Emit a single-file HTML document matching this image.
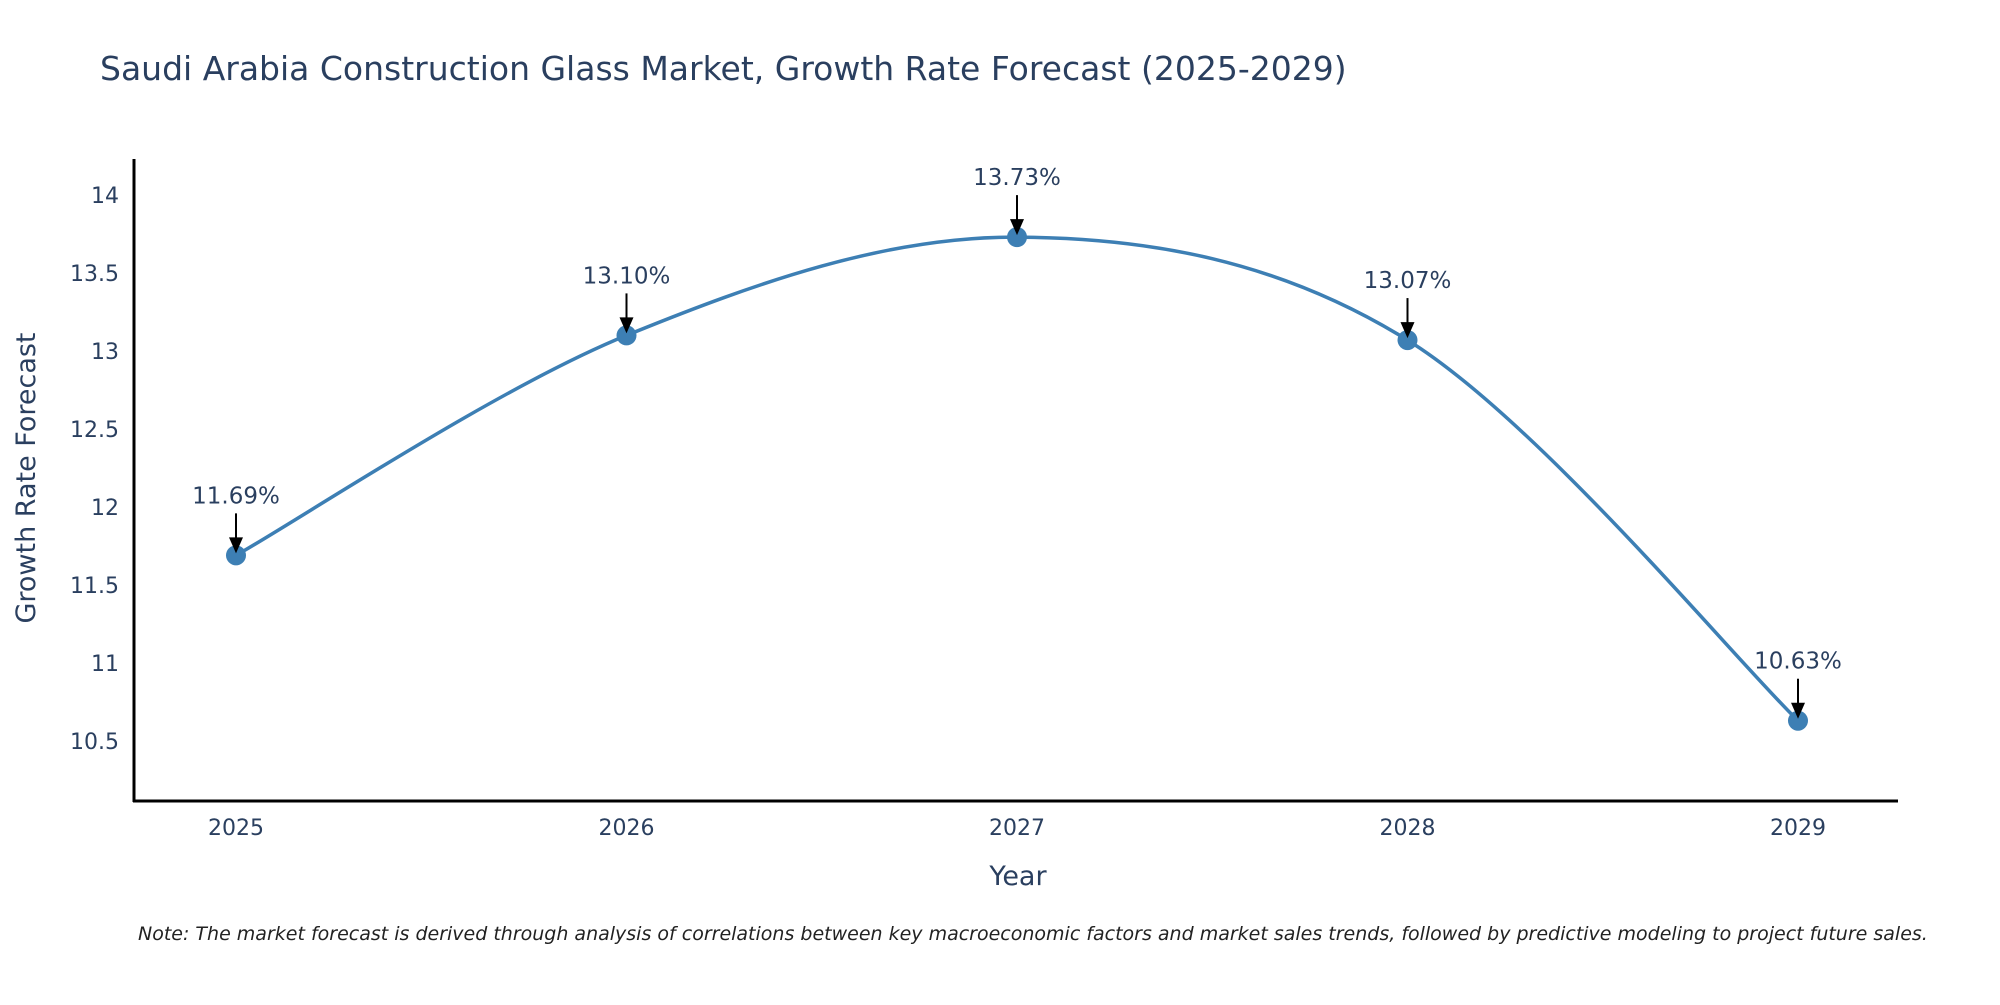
<!DOCTYPE html>
<html><head><meta charset="utf-8"><style>
body{margin:0;background:#fff;width:2000px;height:1000px;overflow:hidden}
text{font-family:"DejaVu Sans","Liberation Sans",sans-serif;fill:#2a3f5f}
</style></head><body>
<svg id="chart" width="2000" height="1000">
<text x="100" y="80" font-size="33">Saudi Arabia Construction Glass Market, Growth Rate Forecast (2025-2029)</text>
<g id="yticks"></g><g id="xticks"></g>
<line x1="134" y1="159" x2="134" y2="802" stroke="#000" stroke-width="3"/>
<line x1="133" y1="801" x2="1898" y2="801" stroke="#000" stroke-width="3"/>
<path id="line" fill="none" stroke="#3d7fb4" stroke-width="3.5"/>
<g id="marks"></g>
<text x="1018" y="885" font-size="27" text-anchor="middle">Year</text>
<text transform="translate(35,478) rotate(-90)" font-size="27" text-anchor="middle">Growth Rate Forecast</text>
<text x="138" y="940" font-size="19" font-style="italic" style="fill:#222">Note: The market forecast is derived through analysis of correlations between key macroeconomic factors and market sales trends, followed by predictive modeling to project future sales.</text>
</svg>
<script>
const years=[2025,2026,2027,2028,2029];
const values=[11.69,13.10,13.73,13.07,10.63];
const labels=["11.69%","13.10%","13.73%","13.07%","10.63%"];
const yTicks=[10.5,11,11.5,12,12.5,13,13.5,14];
const NS="http://www.w3.org/2000/svg";
function xs(v){return 236+(v-2025)*390.5;}
function ys(v){return 741-(v-10.5)*156;}
function mk(t,a,p){const e=document.createElementNS(NS,t);for(const k in a)e.setAttribute(k,a[k]);p.appendChild(e);return e;}
const yt=document.getElementById('yticks');
yTicks.forEach(v=>{const t=mk('text',{x:119,y:ys(v)+8,'font-size':22,'text-anchor':'end'},yt);t.textContent=String(v);

});
const xt=document.getElementById('xticks');
years.forEach(v=>{const t=mk('text',{x:xs(v),y:835,'font-size':22,'text-anchor':'middle'},xt);t.textContent=String(v);

});
const P=years.map((y,i)=>[xs(y),ys(values[i])]);
let d="M"+P[0][0]+","+P[0][1];const s=1/6;
for(let i=0;i<P.length-1;i++){const p0=P[Math.max(0,i-1)],p1=P[i],p2=P[i+1],p3=P[Math.min(P.length-1,i+2)];
d+=" C"+(p1[0]+(p2[0]-p0[0])*s)+","+(p1[1]+(p2[1]-p0[1])*s)+" "+(p2[0]-(p3[0]-p1[0])*s)+","+(p2[1]-(p3[1]-p1[1])*s)+" "+p2[0]+","+p2[1];}
document.getElementById('line').setAttribute('d',d);
const g=document.getElementById('marks');
P.forEach((p,i)=>{const c=mk('circle',{cx:p[0],cy:p[1],r:10,fill:'#3d7fb4'},g);


const a=mk('line',{x1:p[0],y1:p[1]-42,x2:p[0],y2:p[1]-16,stroke:'#000','stroke-width':2},g);


const h=mk('polygon',{points:(p[0]-7)+","+(p[1]-18)+" "+(p[0]+7)+","+(p[1]-18)+" "+p[0]+","+(p[1]-2),fill:'#000'},g);


const t=mk('text',{x:p[0],y:p[1]-52,'font-size':23,'text-anchor':'middle'},g);t.textContent=labels[i];

});
</script>
</body></html>
